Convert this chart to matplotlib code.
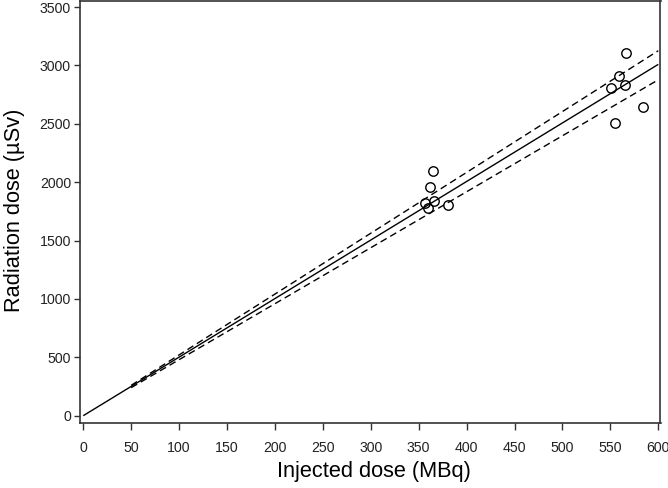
import matplotlib
matplotlib.use("Agg")
import matplotlib.pyplot as plt

# Observed data (injected dose MBq, radiation dose µSv)
injected = [364.6, 361.5, 356.3, 366.3, 359.4, 380.6,
            566.0, 559.3, 550.7, 565.6, 583.7, 554.5]
radiation = [2096, 1958, 1824, 1839, 1781, 1804,
             3104, 2912, 2806, 2832, 2641, 2504]

# Regression line and confidence band
fit_x = [0, 600]
fit_y = [0, 3009]
ci_x = [50, 600]
ci_upper = [260, 3126]
ci_lower = [240, 2877]

xticks = [0, 50, 100, 150, 200, 250, 300, 350, 400, 450, 500, 550, 600]
yticks = [0, 500, 1000, 1500, 2000, 2500, 3000, 3500]

plt.rcParams['font.family'] = ['Liberation Sans', 'DejaVu Sans']

fig = plt.figure(figsize=(6.68, 4.88), dpi=100)
ax = fig.add_axes([80/668, 1 - 422.7/488, 580.5/668, 422.2/488])

ax.plot(fit_x, fit_y, color='black', lw=1.0, solid_capstyle='butt')
ax.plot(ci_x, ci_upper, color='black', lw=1.0, dashes=(5, 3))
ax.plot(ci_x, ci_lower, color='black', lw=1.0, dashes=(5, 3))
ax.plot(injected, radiation, linestyle='none', marker='o', ms=6.8,
        mfc='none', mec='black', mew=1.0)

ax.set_xlim(-3.4, 602.3)
ax.set_ylim(-60, 3556)
ax.set_xticks(xticks)
ax.set_yticks(yticks)
ax.tick_params(direction='out', width=1, color='#333333',
               labelsize=10.2, labelcolor='#222222')
ax.tick_params(axis='x', length=5, pad=8)
ax.tick_params(axis='y', length=4.5, pad=2)
for s in ax.spines.values():
    s.set_color('#333333')
    s.set_linewidth(1.2)

ax.set_xlabel('Injected dose (MBq)', fontsize=15.7, va='center')
ax.set_ylabel('Radiation dose (µSv)', fontsize=15.7, va='center')
ax.xaxis.set_label_coords((374 - 80) / 580.5, (422.7 - 471) / 422.2)
ax.yaxis.set_label_coords((14 - 80) / 580.5, (422.7 - 210.5) / 422.2)

fig.savefig('out.png', dpi=100)
